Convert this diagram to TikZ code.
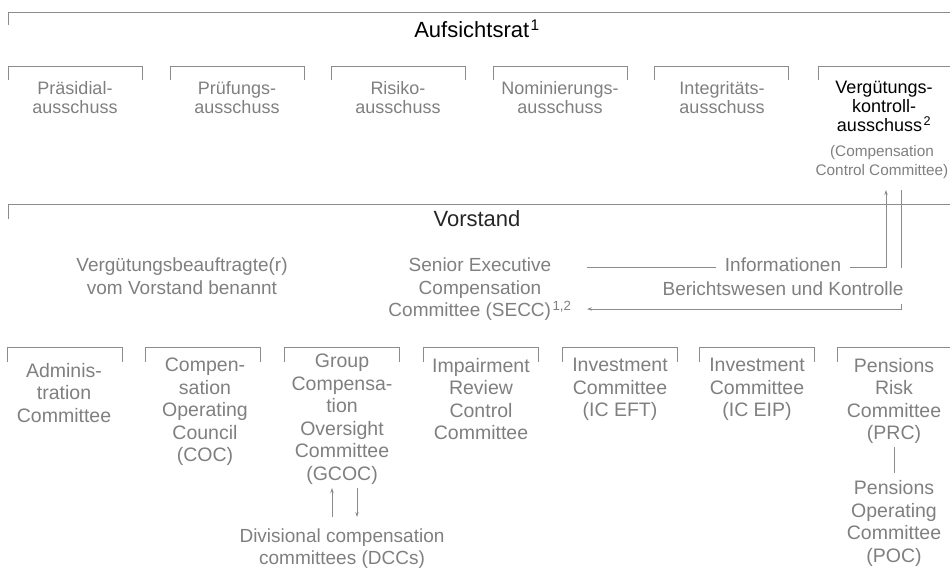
\documentclass[tikz,border=0pt]{standalone}
\usepackage{fontspec}
\setmainfont{Liberation Sans}
\usetikzlibrary{arrows.meta,positioning}

\definecolor{grautext}{HTML}{7F7F7F}
\definecolor{graulinie}{HTML}{8C8C8C}

\tikzset{
  klammer/.style={draw=graulinie, line width=0.9pt},
  linie/.style={draw=graulinie, line width=0.9pt, >={Stealth[length=5pt,width=3.4pt]}},
  gremium/.style={text=grautext, align=center, inner sep=0pt, anchor=north,
    font=\fontsize{19.5}{22.5}\selectfont},
  mitte/.style={gremium, font=\fontsize{19}{22.5}\selectfont},
  ausschuss/.style={gremium, font=\fontsize{18}{19}\selectfont},
  klein/.style={gremium, font=\fontsize{15.3}{19}\selectfont},
  organ/.style={text=black, inner sep=0pt, anchor=base, font=\fontsize{22}{26}\selectfont},
}

\begin{document}
\begin{tikzpicture}[x=1pt, y=-1pt]
        \useasboundingbox (0,0) rectangle (950,585);

        % Klammern
        \draw[klammer] (8,25) |- (952,12);
        \draw[klammer] (8,219) |- (952,204);
        \foreach \x in {8,170,331,493,654,818}
            \draw[klammer] (\x,80) |- (\x+134,66) -- (\x+134,80);
        \foreach \x in {7,145,284,423,562,699,837}
            \draw[klammer] (\x,362) |- (\x+115,347) -- (\x+115,362);

        % Aufsichtsrat und Ausschuesse
        \node (ar) [organ] at (477,38) {Aufsichtsrat\kern1.5pt\textsuperscript{1}};
        \node (praes) [ausschuss] at (75,81) {Präsidial-\\ausschuss};
        \node (pruef) [ausschuss] at (237,81) {Prüfungs-\\ausschuss};
        \node (risiko) [ausschuss] at (398,81) {Risiko-\\ausschuss};
        \node (nom) [ausschuss] at (560,81) {Nominierungs-\\ausschuss};
        \node (integ) [ausschuss] at (722,81) {Integritäts-\\ausschuss};
        \node (vka) [ausschuss, text=black] at (884,81) {Vergütungs-\\kontroll-\\ausschuss\kern1.5pt\textsuperscript{2}};
        \node (ccc) [klein] at (882,145.5) {(Compensation\\Control Committee)};

        % Vorstand
        \node (vorstand) [organ, text=black!85] at (477,227) {Vorstand};
        \node (beauftr) [mitte] at (182,258) {Vergütungsbeauftragte(r)\\vom Vorstand benannt};
        \node (secc) [mitte] at (480,258) {Senior Executive\\Compensation\\Committee (SECC)\kern1.5pt\textsuperscript{1,2}};

        \coordinate (infoAnf) at (587,267);
        \coordinate (infoEnd) at (886,190);
        \coordinate (berAnf) at (901,190);
        \coordinate (berEnd) at (587,309);
        \draw[linie,->] (infoAnf) -| (infoEnd);
        \draw[linie,->] (berAnf) |- (berEnd);
        \node (bericht) [mitte, anchor=base, fill=white, inner xsep=3pt, text height=27pt, text depth=9pt]
            at (783,295) {Berichtswesen und Kontrolle};
        \node (info) [mitte, anchor=base, fill=white, inner xsep=9pt] at (783,272) {Informationen};

        % Gremien unter dem Vorstand
        \node (adm) [gremium] at (64,363) {Adminis-\\tration\\Committee};
        \node (coc) [gremium] at (205,358) {Compen-\\sation\\Operating\\Council\\(COC)};
        \node (gcoc) [gremium] at (342,354) {Group\\Compensa-\\tion\\Oversight\\Committee\\(GCOC)};
        \node (irc) [gremium] at (481,358) {Impairment\\Review\\Control\\Committee};
        \node (iceft) [gremium] at (620,358) {Investment\\Committee\\(IC EFT)};
        \node (iceip) [gremium] at (757,358) {Investment\\Committee\\(IC EIP)};
        \node (prc) [gremium] at (894,358) {Pensions\\Risk\\Committee\\(PRC)};
        \node (poc) [gremium, below=36.5pt of prc] {Pensions\\Operating\\Committee\\(POC)};
        \node (dcc) [mitte, below=43.5pt of gcoc] {Divisional compensation\\committees (DCCs)};

        \draw[linie,->] ([xshift=-10pt,yshift=11pt]dcc.north) -- ([xshift=-10pt,yshift=-3.4pt]gcoc.south);
        \draw[linie,->] ([xshift=15pt,yshift=-3.4pt]gcoc.south) -- ([xshift=15pt,yshift=11pt]dcc.north);
        \draw[linie] (prc) edge[shorten <=3pt, shorten >=8pt] (poc);
\end{tikzpicture}
\end{document}
